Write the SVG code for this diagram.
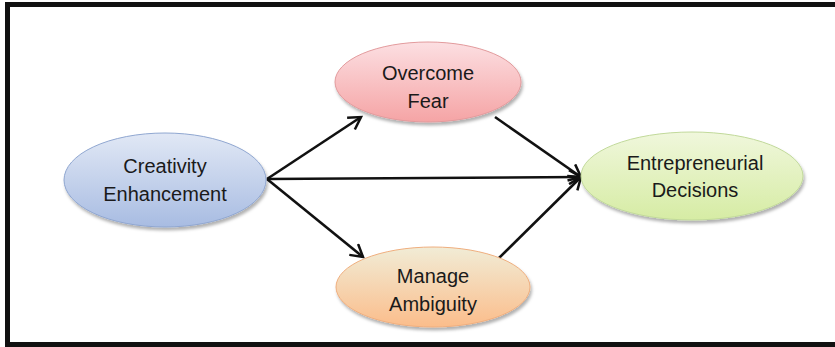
<svg xmlns="http://www.w3.org/2000/svg" width="835" height="347" viewBox="0 0 835 347">
  <defs>
    <linearGradient id="gBlue" x1="0" y1="0" x2="0" y2="1">
      <stop offset="0" stop-color="#e1e8f5"/>
      <stop offset="1" stop-color="#a8bce2"/>
    </linearGradient>
    <linearGradient id="gPink" x1="0" y1="0" x2="0" y2="1">
      <stop offset="0" stop-color="#fcdfe2"/>
      <stop offset="1" stop-color="#f5a4a5"/>
    </linearGradient>
    <linearGradient id="gOrange" x1="0" y1="0" x2="0" y2="1">
      <stop offset="0" stop-color="#f1ecd6"/>
      <stop offset="1" stop-color="#fbbd8b"/>
    </linearGradient>
    <linearGradient id="gGreen" x1="0" y1="0" x2="0" y2="1">
      <stop offset="0" stop-color="#f0f7dc"/>
      <stop offset="1" stop-color="#d6eca4"/>
    </linearGradient>
    <filter id="shadow" x="-10%" y="-10%" width="125%" height="135%">
      <feDropShadow dx="1.5" dy="3" stdDeviation="1.5" flood-color="#000" flood-opacity="0.3"/>
    </filter>
    <marker id="open" markerWidth="16" markerHeight="16" refX="13" refY="8" orient="auto" markerUnits="userSpaceOnUse">
      <path d="M1,1 L13,8 L1,15" fill="none" stroke="#111" stroke-width="2.5"/>
    </marker>
  </defs>
  <style>
    .frame { fill: none; stroke: #111; stroke-width: 5; }
    .node ellipse { filter: url(#shadow); stroke-width: 1; }
    .node text { font-family: "Liberation Sans", Arial, sans-serif; font-size: 20px; fill: #1a1a1a; text-anchor: middle; }
    .edge { stroke: #111; stroke-width: 2.6; fill: none; marker-end: url(#open); }
  </style>

  <!-- outer frame: top, left and bottom edges -->
  <path class="frame" d="M835,4.5 H7.5 V344.5 H835"/>

  <g id="connectors">
    <line class="edge" x1="267" y1="179" x2="361" y2="117"/>
    <line class="edge" x1="267" y1="179" x2="363" y2="257"/>
    <line class="edge" x1="267" y1="179" x2="581" y2="177"/>
    <line class="edge" x1="495" y1="117" x2="581" y2="177"/>
    <line class="edge" x1="499" y1="258" x2="581" y2="177"/>
  </g>

  <g id="creativity" class="node">
    <ellipse cx="165" cy="180" rx="101" ry="47" fill="url(#gBlue)" stroke="#8fa6d0"/>
    <text x="165" y="173">Creativity</text>
    <text x="165" y="201">Enhancement</text>
  </g>

  <g id="overcome-fear" class="node">
    <ellipse cx="428" cy="82" rx="93" ry="40" fill="url(#gPink)" stroke="#e29a9c"/>
    <text x="428" y="80">Overcome</text>
    <text x="428" y="108">Fear</text>
  </g>

  <g id="manage-ambiguity" class="node">
    <ellipse cx="433" cy="287" rx="97" ry="40" fill="url(#gOrange)" stroke="#efae7e"/>
    <text x="433" y="283">Manage</text>
    <text x="433" y="311">Ambiguity</text>
  </g>

  <g id="entrepreneurial-decisions" class="node">
    <ellipse cx="692" cy="176" rx="111" ry="44" fill="url(#gGreen)" stroke="#c1d99a"/>
    <text x="695" y="170">Entrepreneurial</text>
    <text x="695" y="197">Decisions</text>
  </g>
</svg>
